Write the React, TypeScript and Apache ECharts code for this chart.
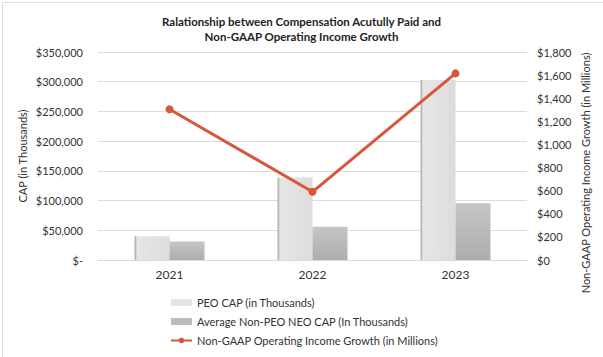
import React, { useEffect, useRef } from "react";
import * as echarts from "echarts";

const years = ["2021", "2022", "2023"];
const peoCap = [40000, 139000, 303000];
const neoCap = [31000, 56000, 95500];
const incomeGrowth = [1305, 590, 1615];
const leftTicks = [0, 50000, 100000, 150000, 200000, 250000, 300000, 350000];
const rightTicks = [0, 200, 400, 600, 800, 1000, 1200, 1400, 1600, 1800];

const FONT = "Lato, 'Open Sans', sans-serif";

function fmtLeft(v: number) {
  if (v === 0) return "$-";
  return "$" + v.toLocaleString("en-US");
}
function fmtRight(v: number) {
  return "$" + v.toLocaleString("en-US");
}

export default function App() {
  const ref = useRef<HTMLDivElement>(null);
  useEffect(() => {
    if (!ref.current) return;
    const chart = echarts.init(ref.current, undefined, { renderer: "svg" });
    chart.setOption({
      animation: false,
      backgroundColor: "#ffffff",
      textStyle: { fontFamily: FONT },
      title: {
        text: "Ralationship between Compensation Acutully Paid and\nNon-GAAP Operating Income Growth",
        left: "center",
        top: 9,
        textStyle: {
          fontFamily: FONT,
          fontSize: 11.5,
          fontWeight: "bold",
          color: "#222",
          lineHeight: 15,
        },
      },
      grid: { left: 98, right: 76, top: 52, bottom: 97 },
      legend: {
        orient: "vertical",
        left: 165,
        top: 291,
        itemWidth: 21,
        itemHeight: 7,
        itemGap: 6,
        textStyle: { fontFamily: FONT, fontSize: 11, color: "#333", lineHeight: 13 },
        data: [
          { name: "PEO CAP (in Thousands)", icon: "rect", itemStyle: { color: "#e4e4e4" } },
          { name: "Average Non-PEO NEO CAP (In Thousands)", icon: "rect", itemStyle: { color: "#bdbdbd" } },
          { name: "Non-GAAP Operating Income Growth (in Millions)" },
        ],
      },
      xAxis: {
        type: "category",
        data: years,
        axisLine: { show: true, lineStyle: { color: "#d9d9d9", width: 1 } },
        axisTick: { show: false },
        axisLabel: { fontFamily: FONT, fontSize: 12, color: "#333", margin: 8 },
      },
      yAxis: [
        {
          type: "value",
          min: 0,
          max: leftTicks[leftTicks.length - 1],
          interval: leftTicks[1] - leftTicks[0],
          axisLine: { show: false },
          axisTick: { show: false },
          splitLine: { lineStyle: { color: "#dcdcdc", width: 1 } },
          axisLabel: {
            fontFamily: FONT,
            fontSize: 11,
            color: "#333",
            margin: 15,
            formatter: (v: number) => fmtLeft(v),
          },
        },
        {
          type: "value",
          min: 0,
          max: rightTicks[rightTicks.length - 1],
          interval: rightTicks[1] - rightTicks[0],
          axisLine: { show: false },
          axisTick: { show: false },
          splitLine: { show: false },
          axisLabel: {
            fontFamily: FONT,
            fontSize: 11,
            color: "#333",
            margin: 10,
            formatter: (v: number) => fmtRight(v),
          },
        },
      ],
      graphic: [
        {
          type: "rect",
          left: 0,
          top: 0,
          shape: { x: 0.5, y: 0.5, width: 602, height: 356 },
          style: { fill: "none", stroke: "#dddddd", lineWidth: 1 },
          silent: true,
        },
        {
          type: "text",
          x: 22,
          y: 156,
          rotation: Math.PI / 2,
          style: {
            text: "CAP (in Thousands)",
            fontFamily: FONT,
            fontSize: 11,
            fill: "#333",
            textAlign: "center",
            textVerticalAlign: "middle",
          },
        },
        {
          type: "text",
          x: 585,
          y: 173,
          rotation: Math.PI / 2,
          style: {
            text: "Non-GAAP Operating Income Growth (in Millions)",
            fontFamily: FONT,
            fontSize: 11,
            fill: "#333",
            textAlign: "center",
            textVerticalAlign: "middle",
          },
        },
      ],
      series: [
        {
          name: "PEO CAP (in Thousands)",
          type: "bar",
          yAxisIndex: 0,
          data: peoCap,
          barWidth: 35,
          barGap: "0%",
          itemStyle: {
            color: new echarts.graphic.LinearGradient(0, 0, 1, 0, [
              { offset: 0, color: "#b4b4b4" },
              { offset: 0.05, color: "#b4b4b4" },
              { offset: 0.06, color: "#e6e6e6" },
              { offset: 1, color: "#dcdcdc" },
            ]),
          },
        },
        {
          name: "Average Non-PEO NEO CAP (In Thousands)",
          type: "bar",
          yAxisIndex: 0,
          data: neoCap,
          barWidth: 35,
          barGap: "0%",
          itemStyle: {
            color: new echarts.graphic.LinearGradient(0, 0, 0, 1, [
              { offset: 0, color: "#c6c6c6" },
              { offset: 1, color: "#adadad" },
            ]),
          },
        },
        {
          name: "Non-GAAP Operating Income Growth (in Millions)",
          type: "line",
          yAxisIndex: 1,
          data: incomeGrowth,
          symbol: "circle",
          symbolSize: 8,
          lineStyle: { color: "#d9553b", width: 3 },
          itemStyle: { color: "#d9553b" },
          z: 5,
        },
      ],
    });
    return () => chart.dispose();
  }, []);
  return (
    <div style={{ position: "absolute", left: 0, top: 0 }}>
      <div ref={ref} style={{ width: 603, height: 357 }} />
    </div>
  );
}
